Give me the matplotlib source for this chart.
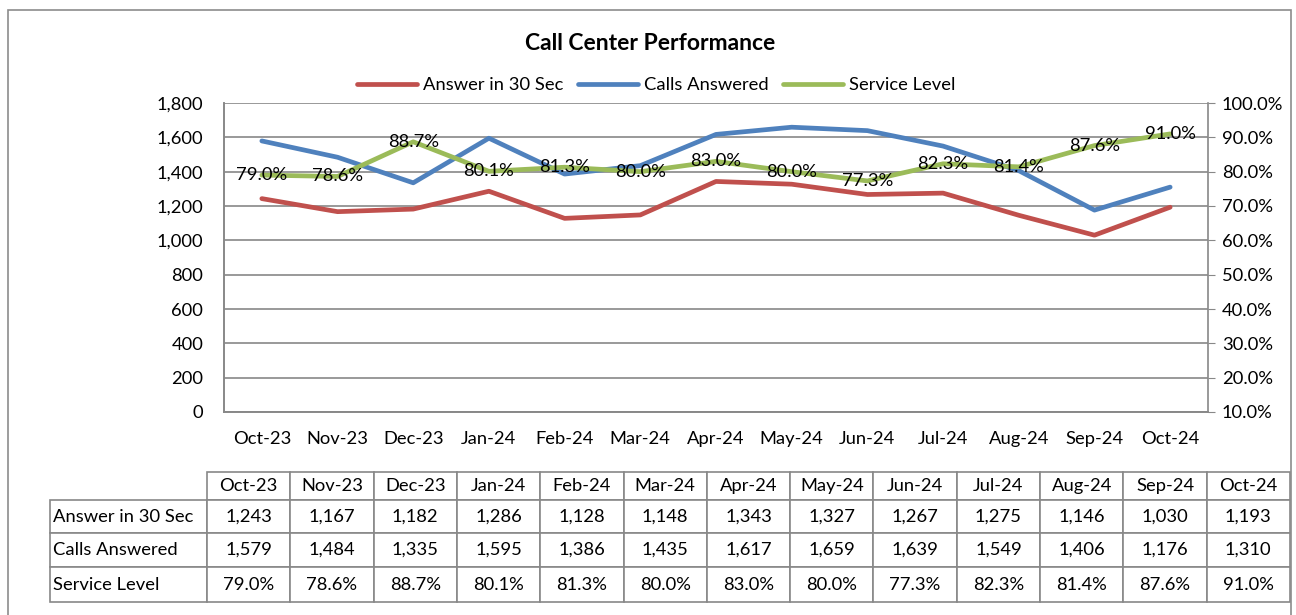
import matplotlib
matplotlib.use("Agg")
import matplotlib.pyplot as plt
from matplotlib.patches import Rectangle
from matplotlib.ticker import FuncFormatter

plt.rcParams['font.family'] = ['Lato', 'DejaVu Sans']

months = ["Oct-23", "Nov-23", "Dec-23", "Jan-24", "Feb-24", "Mar-24", "Apr-24",
          "May-24", "Jun-24", "Jul-24", "Aug-24", "Sep-24", "Oct-24"]
answer_30 = [1243, 1167, 1182, 1286, 1128, 1148, 1343, 1327, 1267, 1275, 1146, 1030, 1193]
calls_answered = [1579, 1484, 1335, 1595, 1386, 1435, 1617, 1659, 1639, 1549, 1406, 1176, 1310]
service_level = [79.0, 78.6, 88.7, 80.1, 81.3, 80.0, 83.0, 80.0, 77.3, 82.3, 81.4, 87.6, 91.0]

C_RED = "#C0504D"
C_BLUE = "#4F81BD"
C_GREEN = "#9BBB59"
GRID = "#888888"
FS = 13.2

W, H = 1296, 615
fig = plt.figure(figsize=(W / 100, H / 100), dpi=100)

# outer frame (bottom edge falls outside the image)
fig.patches.append(Rectangle((8 / W, -0.05), (1291 - 8) / W, 1.05 - 10 / H,
                             transform=fig.transFigure, fill=False,
                             edgecolor="#8C8C8C", linewidth=1.2))

L, R, T, B = 224, 1208, 103, 412
ax = fig.add_axes([L / W, 1 - B / H, (R - L) / W, (B - T) / H])
ax2 = ax.twinx()

x = list(range(len(months)))
l1, = ax.plot(x, answer_30, color=C_RED, lw=3.4, label="Answer in 30 Sec", solid_capstyle='round')
l2, = ax.plot(x, calls_answered, color=C_BLUE, lw=3.4, label="Calls Answered", solid_capstyle='round')
l3, = ax2.plot(x, service_level, color=C_GREEN, lw=3.4, label="Service Level", solid_capstyle='round')
ax2.set_zorder(ax.get_zorder() + 1)
ax.patch.set_visible(False)

ax.set_xlim(-0.5, len(months) - 0.5)
ax.set_ylim(0, 1800)
ax2.set_ylim(10, 100)
ax.set_yticks(range(0, 1801, 200))
ax.yaxis.set_major_formatter(FuncFormatter(lambda v, p: f"{int(v):,}"))
ax2.set_yticks(range(10, 101, 10))
ax2.yaxis.set_major_formatter(FuncFormatter(lambda v, p: f"{v:.1f}%"))
ax.set_xticks(x)
ax.set_xticklabels(months)
ax.grid(axis='y', color=GRID, lw=1.2)
for a in (ax, ax2):
    for s in a.spines.values():
        s.set_color(GRID)
        s.set_linewidth(1.2)
    a.spines['top'].set_visible(False)
ax.spines['right'].set_visible(False)
ax.tick_params(axis='x', length=0, labelsize=FS, pad=14)
ax.tick_params(axis='y', length=0, labelsize=FS, pad=15)
ax2.tick_params(axis='y', length=5, color=GRID, labelsize=FS, pad=5)

for xi, v in zip(x, service_level):
    ax2.text(xi, v, f"{v:.1f}%", ha='center', va='center', fontsize=FS, color='black', zorder=5)

fig.text(650 / W, 1 - 44 / H, "Call Center Performance", ha='center', va='center',
         fontsize=16.5, fontweight='bold')
fig.legend(handles=[l1, l2, l3], loc='center', bbox_to_anchor=(656 / W, 1 - 85 / H),
           ncol=3, frameon=False, fontsize=FS, handlelength=3.3, handletextpad=0.3,
           columnspacing=0.8)

# data table
tab_ax = fig.add_axes([0, 0, 1, 1])
tab_ax.axis('off')
rows = [
    ("Answer in 30 Sec", [f"{v:,}" for v in answer_30]),
    ("Calls Answered", [f"{v:,}" for v in calls_answered]),
    ("Service Level", [f"{v:.1f}%" for v in service_level]),
]
cell_text = [[""] + months] + [[name] + vals for name, vals in rows]
x0, xl, xr = 50, 207, 1290
y_edges = [472, 500, 533, 567, 602]
cw = (xr - xl) / len(months)
tbl = tab_ax.table(cellText=cell_text, cellLoc='center',
                   colWidths=[(xl - x0) / W] + [cw / W] * len(months),
                   bbox=[x0 / W, 1 - y_edges[-1] / H, (xr - x0) / W,
                         (y_edges[-1] - y_edges[0]) / H],
                   transform=fig.transFigure)
tbl.auto_set_font_size(False)
for (r, c), cell in tbl.get_celld().items():
    cell.set_edgecolor(GRID)
    cell.set_linewidth(1.2)
    cell.get_text().set_fontsize(FS)
    if r == 0 and c == 0:
        cell.visible_edges = ''
    if c == 0:
        cell.get_text().set_ha('left')
        cell.PAD = 0.02
    cell.set_height((y_edges[r + 1] - y_edges[r]) / H)

fig.savefig("out.png", dpi=100)
